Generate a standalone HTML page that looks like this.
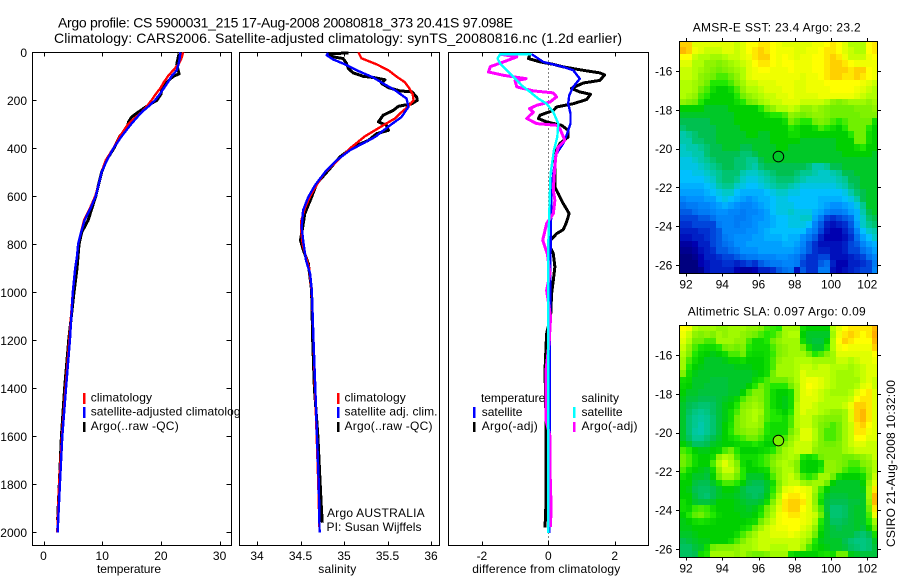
<!DOCTYPE html>
<html>
<head>
<meta charset="utf-8">
<title>Argo profile</title>
<style>
html,body{margin:0;padding:0;background:#fff;}
svg{display:block;font-family:"Liberation Sans",sans-serif;}
text{fill:#000;font-size:12px;}
</style>
</head>
<body>
<svg id="chart" xmlns="http://www.w3.org/2000/svg" width="900" height="580" viewBox="0 0 900 580">
<defs><clipPath id="legend-clip"><rect x="33" y="380" width="206.5" height="60"/></clipPath></defs>
<rect x="0" y="0" width="900" height="580" fill="#fff"/>
</svg>
<script>
// ---------- depth categories ----------
var climDepth = [0,25,50,75,100,125,150,175,200,225,250,275,300,350,400,450,500,550,600,650,700,750,800,850,900,1000,1200,1400,1600,1800,2000];
// ---------- temperature panel ----------
var climTemp = [23.8,23.5,23,22.1,21.2,20.5,19.9,19.1,18.4,17.6,16.7,15.5,14.4,13,11.9,10.6,9.9,9.4,8.8,7.9,6.9,6.4,5.9,5.7,5.4,5,4.4,3.75,3.15,2.65,2.35];
var satTemp = [23.3,23.2,23,22.7,21.8,21.2,20.5,19.8,19,17.9,16.7,15.8,14.9,13.3,11.9,10.8,9.9,9.4,8.9,8,7,6.4,5.9,5.7,5.4,5,4.5,3.83,3.2,2.8,2.4];
var argoTempDepth = [5,50,90,100,125,150,175,200,220,250,270,290,320,350,400,450,500,600,700,750,800,900,1000,1200,1400,1600,1800,1950];
var argoTemp = [23.1,22.7,23.1,22.1,21,20.2,20,19.3,17.9,16.1,15,14.5,14.2,13,12,10.7,9.9,8.9,7.6,6.5,6.05,5.7,5.2,4.3,3.6,3.05,2.7,2.4];
// ---------- salinity panel ----------
var climSal = [35.165,35.2,35.375,35.51,35.6,35.7,35.75,35.79,35.8,35.74,35.66,35.59,35.47,35.24,35.07,34.93,34.78,34.69,34.61,34.55,34.51,34.51,34.525,34.56,34.6,34.63,34.65,34.667,34.686,34.705,34.72];
var satSalDepth = [3,12,30,50,75,105,130,158,193,228,270,304,353,408,450,500,554,603,658,728,783,867,922,992,1200,1400,1600,1800,2000];
var satSal = [34.82,34.8,34.877,35.01,35.146,35.337,35.45,35.586,35.72,35.74,35.66,35.53,35.356,35.07,34.916,34.78,34.667,34.59,34.53,34.514,34.53,34.563,34.61,34.63,34.65,34.67,34.69,34.71,34.72];
var argoSalDepth = [3,6,19,26,47,68,86,100,105,114,130,147,161,165,186,200,214,225,242,262,290,304,325,339,367,394,436,492,547,603,672,728,783,825,880,992,1200,1400,1600,1750,1900,1960];
var argoSal = [35.05,34.82,34.877,34.99,35.03,35.05,35.107,35.22,35.337,35.47,35.433,35.51,35.644,35.78,35.835,35.843,35.78,35.625,35.567,35.45,35.395,35.49,35.51,35.375,35.28,35.107,34.954,34.82,34.686,34.628,34.55,34.525,34.5,34.533,34.59,34.628,34.64,34.66,34.7,34.72,34.74,34.75];
// ---------- difference panel ----------
var diffSatTempDepth = [8,40,61,75,110,144,179,214,255,297,339,380,422,505,575,800,1200,1600,2003];
var diffSatTemp = [-0.5,-0.15,0.45,0.75,0.95,0.75,0.63,0.6,0.67,0.67,0.57,0.45,0.25,0.15,0.1,0.07,0.05,0.04,0.03];
var diffArgoTempDepth = [8,26,40,50,61,75,86,94,117,128,151,165,175,197,214,228,242,262,276,290,304,325,353,380,422,505,561,589,630,672,714,739,756,783,811,839,894,950,1006,1103,1172,1325,1533,1880,1980];
var diffArgoTemp = [-0.55,-0.6,-0.25,0.15,0.45,1.05,1.55,1.7,1.55,1.05,0.7,0.95,1.27,1.15,0.75,0.25,0.15,-0.25,-0.3,-0.05,0.4,0.6,0.6,0.35,0.2,0.2,0.2,0.3,0.45,0.63,0.53,0.45,0.25,0.07,0.05,0.15,0.2,0.15,0.1,0.07,-0.05,-0.1,-0.07,-0.07,-0.1];
var diffArgoSalDepth = [8,19,40,60,82,96,110,119,144,161,169,186,207,221,235,249,276,297,304,318,367,394,429,505,575,617,672,714,783,839,922,992,1103,1200,1325,1533,1600,1742,1880,1978];
var diffArgoSal = [-1.45,-0.95,-1.35,-1.75,-1.8,-1.35,-0.67,-1,-0.95,-0.45,0.15,0.25,0.05,-0.35,-0.57,-0.45,-0.65,-0.35,0.25,0.35,0.5,0.3,0.23,0.18,0.15,0.2,0.15,-0.05,-0.17,-0.03,0.05,-0.05,0.07,0.03,-0.07,-0.07,0.05,0.05,0.08,0.07];
var diffSatSalDepth = [8,8,26,47,68,103,138,165,193,214,249,297,353,408,505,575,800,1200,1600,2003];
var diffSatSal = [-0.5,-1.45,-1.53,-1.45,-1.3,-1.05,-0.8,-0.55,-0.3,-0.05,0.15,0.3,0.27,0.17,0.07,0.05,0,0,0,0];
// ---------- tick labels ----------
var depthTicks = [0,200,400,600,800,1000,1200,1400,1600,1800,2000];
var tempTicks = [0,10,20,30];
var salTicks = [34,34.5,35,35.5,36];
var diffTicks = [-2,0,2];
var lonTicks = [92,94,96,98,100,102];
var latTicks = [-16,-18,-20,-22,-24,-26];
// ---------- map marker ----------
var argoLon = 97.098;
var argoLat = -20.41;
var argoSstTenths = 32;
var argoSlaCm = 9;
// ---------- SST grid: tenths of a degree above 20 C, north to south ----------
var sstGrid = [
[47,47,43,43,43,43,43,43,43,42,43,45,45,46,46,45,44,43,43,43,43,43,44,44,45,46,45,43,41,41,41,45,46],
[48,47,44,43,42,42,42,43,43,42,43,45,46,47,46,45,44,44,44,43,43,44,44,45,46,46,45,43,42,41,41,45,46],
[45,45,42,41,41,40,40,41,42,42,43,44,46,47,47,45,44,45,44,43,44,44,45,45,46,47,46,44,42,42,42,44,45],
[43,43,41,41,39,39,38,39,40,41,42,43,45,46,46,45,44,45,45,44,44,44,45,45,46,47,47,46,45,44,44,44,44],
[42,42,41,40,39,38,37,38,39,40,41,43,44,45,45,44,44,44,45,44,44,44,45,45,46,47,47,47,46,47,47,45,44],
[42,42,41,39,38,37,36,36,37,39,41,43,44,44,44,44,44,44,44,44,43,44,44,45,46,47,47,46,46,47,46,45,44],
[41,41,40,39,37,35,35,35,36,38,40,42,42,43,43,43,44,44,44,43,43,44,44,44,45,45,45,45,45,45,44,43,42],
[41,41,40,37,36,34,33,33,34,36,39,41,41,42,43,43,43,44,44,43,43,44,44,44,44,45,45,45,45,44,43,42,41],
[41,40,39,36,35,33,33,33,33,35,37,39,40,41,42,42,43,43,44,43,43,43,43,44,44,44,44,44,44,43,42,41,41],
[39,38,37,35,33,33,33,33,33,34,35,37,38,40,41,42,42,43,43,43,42,42,42,42,41,39,38,39,40,40,40,39,40],
[33,33,33,33,32,32,32,32,33,33,33,33,33,35,37,39,41,41,42,41,39,39,40,39,38,37,37,37,37,38,38,38,39],
[32,32,32,32,32,32,32,32,32,33,33,33,33,33,34,35,35,36,39,38,37,38,39,39,38,37,37,37,37,37,38,38,38],
[31,31,31,31,31,32,32,32,32,33,33,33,33,33,33,33,33,34,37,36,35,35,37,38,37,36,35,36,37,37,37,37,34],
[30,31,31,31,31,31,32,32,32,32,33,33,33,33,33,33,33,33,35,34,33,33,34,36,35,34,33,35,37,37,37,35,33],
[28,29,30,31,31,31,32,32,32,32,32,33,33,32,32,33,33,33,34,34,33,33,33,33,33,33,33,33,35,37,37,34,33],
[28,28,30,30,31,31,32,32,32,32,32,32,32,32,32,33,33,33,33,33,32,32,32,32,32,32,33,33,33,37,37,34,33],
[27,28,28,29,30,31,31,32,32,32,31,31,32,32,32,32,33,33,32,32,32,32,32,32,32,32,33,33,33,34,35,33,33],
[27,27,28,28,30,31,31,31,31,31,30,30,31,32,32,32,32,32,32,32,32,32,32,32,32,32,32,33,33,33,33,33,32],
[26,26,27,28,29,30,31,31,31,30,30,29,29,31,32,32,32,32,32,32,32,32,32,32,32,32,32,32,32,32,32,32,32],
[26,26,26,27,28,29,30,31,31,30,30,29,28,30,31,31,31,31,31,31,31,30,28,28,29,31,31,32,32,32,32,32,32],
[25,25,26,26,27,28,29,30,30,30,28,27,27,28,29,30,31,31,31,30,29,29,28,27,27,28,29,31,31,32,32,32,32],
[25,25,25,25,26,27,29,30,30,29,27,26,26,27,28,29,30,30,30,29,28,27,27,27,27,27,28,29,31,31,32,32,32],
[24,24,24,24,25,26,28,29,29,27,26,25,25,26,27,28,29,29,28,27,26,26,26,26,26,26,27,28,30,31,32,32,32],
[23,23,23,23,24,25,26,27,27,25,24,24,24,24,25,26,27,27,26,26,25,25,25,25,25,25,25,26,28,30,31,32,32],
[21,22,22,22,23,23,25,26,25,24,23,22,23,24,24,25,26,26,25,25,25,25,25,24,24,24,24,25,26,28,31,32,32],
[19,20,20,21,21,22,23,24,23,22,21,21,22,23,24,25,26,26,26,25,25,25,25,24,23,22,22,23,24,26,29,32,32],
[18,18,19,20,20,21,22,22,21,21,20,21,21,22,23,25,26,26,27,26,26,26,24,23,21,20,20,21,23,24,28,31,32],
[17,17,17,18,18,19,21,21,21,20,20,21,22,22,23,24,25,25,26,26,27,27,23,20,17,16,17,18,19,24,27,30,31],
[16,16,17,17,17,17,20,21,21,20,21,21,22,23,23,24,25,25,26,26,26,25,21,18,15,14,15,16,18,23,27,29,30],
[15,15,15,16,16,17,18,21,21,21,21,22,22,23,24,25,25,25,25,25,25,22,20,17,14,13,13,15,17,21,25,27,28],
[14,14,15,15,16,17,18,20,21,22,22,22,23,23,24,24,24,25,24,24,22,20,18,15,13,13,13,14,16,19,23,25,27],
[12,12,13,15,15,17,18,19,20,22,22,23,23,23,23,23,23,24,24,23,21,18,16,14,14,14,14,15,17,18,21,23,24],
[11,11,12,14,15,16,18,18,19,20,22,22,22,23,23,23,23,23,23,22,20,18,16,15,15,14,14,15,17,17,19,21,23],
[10,10,11,13,15,15,16,17,17,18,19,20,20,21,21,21,22,22,21,20,18,16,16,17,17,14,14,14,15,16,17,19,21],
[10,10,10,13,14,15,15,16,16,15,16,17,16,18,19,20,20,21,21,20,17,16,16,18,19,15,13,13,15,15,16,17,20],
[10,10,10,11,14,15,15,15,15,13,12,12,13,15,15,16,18,19,20,14,18,16,16,20,20,14,13,14,15,16,17,17,21]
];
// ---------- SLA grid: centimetres, north to south ----------
var slaGrid = [
[24,22,16,14,14,14,12,12,14,14,14,12,12,10,6,5,4,14,14,14,2,0,0,0,0,16,20,24,26,26,26,26,30],
[22,18,12,10,12,10,14,12,14,14,12,10,8,6,4,5,8,14,16,16,0,-2,-2,-2,-2,14,22,26,28,26,24,26,31],
[20,16,8,8,6,6,14,14,14,12,12,6,2,2,4,8,12,14,14,14,2,-2,-3,-3,0,16,24,28,26,24,24,24,30],
[18,12,6,3,2,2,4,8,10,8,10,4,2,2,2,6,10,12,14,14,8,2,-2,-2,4,16,22,24,22,22,22,22,28],
[16,10,4,1,0,-1,0,2,6,6,8,2,1,1,2,5,10,12,14,14,14,8,4,6,10,14,20,20,20,20,20,20,24],
[14,6,2,0,-2,-2,-2,-1,1,1,2,0,0,0,2,6,12,14,14,16,16,16,14,14,14,14,18,18,16,18,20,20,22],
[14,4,0,-1,-2,-2,-2,-2,-2,-1,-1,-1,0,0,2,6,14,14,14,16,18,18,16,18,18,16,16,16,14,16,18,20,20],
[10,2,-1,-2,-2,-2,-2,-2,-2,-2,-2,-2,-1,0,2,8,14,14,14,16,20,18,18,18,18,16,14,14,14,16,18,20,20],
[2,1,-2,-2,-2,-3,-3,-3,-2,-2,-2,-2,1,3,6,8,8,8,12,16,20,22,22,20,18,16,14,14,14,14,18,20,18],
[1,0,-2,-2,-3,-3,-3,-3,-2,-2,-2,0,4,8,6,4,4,4,8,14,20,24,22,20,18,16,14,14,14,16,20,22,18],
[0,-2,-2,-3,-3,-3,-3,-3,-2,-2,0,6,10,10,6,2,0,0,2,14,20,22,20,18,16,14,14,14,16,20,24,26,20],
[-1,-3,-3,-4,-4,-4,-3,-2,-1,1,6,10,12,10,6,2,0,-1,2,14,20,20,20,18,16,16,16,16,18,24,26,26,20],
[-2,-4,-5,-6,-6,-5,-3,-1,0,4,10,12,14,12,6,2,0,-1,2,16,20,20,18,16,16,16,16,18,22,28,28,26,20],
[-2,-5,-7,-8,-7,-5,-3,-1,2,6,12,14,16,14,6,4,2,0,4,16,20,18,18,16,14,12,12,14,20,28,30,26,20],
[-2,-6,-8,-9,-8,-6,-3,-1,2,8,12,14,16,12,6,4,4,2,6,16,18,18,14,12,10,10,10,14,20,28,30,26,20],
[-2,-6,-8,-10,-8,-6,-3,0,3,8,12,14,14,12,4,2,2,2,6,16,18,18,14,10,8,6,8,14,18,26,28,24,20],
[-2,-6,-9,-10,-8,-6,-3,0,4,8,10,12,12,8,4,2,2,2,8,14,20,20,16,10,6,6,8,14,18,26,26,22,20],
[-2,-5,-8,-8,-6,-4,-2,0,2,4,6,8,8,6,2,2,4,6,12,16,20,20,16,10,6,6,8,14,18,24,24,20,20],
[0,-2,-5,-5,-4,-2,-1,0,0,1,2,2,4,2,0,0,8,10,14,18,18,18,14,10,8,8,10,14,18,20,20,18,18],
[6,4,0,-1,-1,0,1,6,8,4,0,0,0,1,2,4,8,14,16,18,18,18,12,10,10,10,10,14,16,18,18,18,18],
[8,6,2,0,0,2,12,16,14,6,2,2,2,4,6,8,12,14,16,14,4,2,4,8,10,10,10,8,8,10,12,14,18],
[8,6,2,0,0,6,16,20,16,10,2,0,2,4,6,10,14,16,14,10,1,0,0,2,12,12,10,8,6,6,10,12,16],
[6,2,0,-1,-2,2,12,18,18,12,4,0,0,1,2,8,12,16,16,10,1,0,0,4,12,12,10,6,4,4,6,10,16],
[2,0,-2,-2,-3,0,8,14,14,8,4,-2,-2,-2,0,6,12,16,18,14,6,4,6,14,14,8,2,0,0,0,2,8,18],
[0,0,-3,-4,-4,-2,2,6,6,4,0,-3,-4,-4,-2,2,10,16,18,18,14,12,14,14,8,0,-2,-2,-2,-2,0,12,20],
[0,-1,-4,-5,-5,-4,-2,0,0,-1,-3,-5,-5,-5,-2,4,12,20,22,24,22,20,14,6,0,-2,-2,-2,-2,-2,-1,14,26],
[0,0,-3,-5,-6,-4,-2,-1,-1,-2,-3,-4,-5,-4,-1,6,16,24,26,26,24,20,12,4,-2,-3,-3,-3,-2,-2,-2,14,30],
[2,0,-2,-3,-3,-2,0,0,0,-1,-2,-3,-3,-2,2,10,18,26,28,28,26,20,12,2,-3,-4,-4,-4,-3,-3,-2,12,30],
[2,1,5,6,5,2,0,0,0,-1,-1,-2,-1,2,8,14,20,26,28,28,24,20,14,6,-3,-6,-6,-5,-3,-2,-2,8,26],
[0,4,7,8,6,4,1,0,0,0,-1,-1,0,4,10,16,22,24,26,26,22,20,18,8,-2,-6,-6,-5,-3,-2,-2,6,22],
[-1,0,2,3,2,1,0,0,0,0,0,1,2,8,14,18,22,24,24,24,22,20,16,4,-2,-5,-5,-4,-3,-2,-2,4,14],
[-1,-1,0,0,0,0,0,0,0,0,2,4,8,14,18,20,22,22,24,24,20,18,12,2,-2,-3,-4,-3,-3,-2,-3,0,8],
[-2,-2,-1,0,0,0,0,0,0,2,6,10,14,18,18,20,20,20,22,20,18,16,8,0,-2,-3,-3,-3,-3,-5,-6,-4,2],
[-4,-3,-2,-1,-1,0,0,0,2,6,10,14,16,18,18,18,18,18,18,18,16,12,4,-1,-2,-2,-2,-4,-6,-7,-7,-6,-2],
[-5,-5,-3,-2,2,8,10,10,10,12,14,14,16,18,18,16,16,16,18,18,14,6,2,0,-1,-2,-2,-3,-5,-6,-7,-6,-3],
[-5,-5,-4,2,4,14,14,14,14,12,14,10,8,8,10,14,14,14,2,0,0,0,0,2,3,2,8,8,-1,-2,-3,-3,-3]
];

var svg = document.getElementById('chart');
var NS = 'http://www.w3.org/2000/svg';

function node(tag, attrs, name, parent) {
  var el = document.createElementNS(NS, tag);
  for (var k in attrs) el.setAttribute(k, attrs[k]);
  
  
  (parent || svg).appendChild(el);
  return el;
}
function label(str, x, y, anchor, name, size, len) {
  var a = {x: x, y: y, 'text-anchor': anchor || 'start', style: 'font-size:' + (size || 12) + 'px'};
  if (len) { a.textLength = len; a.lengthAdjust = 'spacing'; }
  var t = node('text', a, name);
  t.textContent = str;
  return t;
}
function tick(x1, y1, x2, y2, name) {
  node('line', {x1: x1, y1: y1, x2: x2, y2: y2, stroke: '#000', 'stroke-width': 1, 'shape-rendering': 'crispEdges'}, name);
}

// ---------- axis functions ----------
function yDepth(d) { return 52.3 + d * 0.24; }
function xTemp(v) { return 43.5 + v * 5.87; }
function xSal(v) { return 257 + (v - 34) * 87; }
function xDiff(v) { return 548.3 + v * 33.2; }
var PTOP = 52.5, PBOT = 545.5;

function panel(x0, x1, name) {
  node('rect', {x: x0, y: PTOP, width: x1 - x0, height: PBOT - PTOP, fill: '#fff', stroke: '#000', 'stroke-width': 1, 'shape-rendering': 'crispEdges'}, name);
}
function xTicks(ticks, fx, prefix) {
  ticks.forEach(function (t) {
    var x = Math.round(fx(t)) + 0.5;
    tick(x, PTOP, x, PTOP + 4, prefix + '-top-tick');
    tick(x, PBOT, x, PBOT - 4, prefix + '-bottom-tick');
    label(String(t), fx(t), 560, 'middle', prefix + '-tick-label');
  });
}
function series(depths, values, fx, color, width, name) {
  var pts = depths.map(function (d, i) { return fx(values[i]).toFixed(1) + ',' + yDepth(d).toFixed(1); }).join(' ');
  node('polyline', {points: pts, fill: 'none', stroke: color, 'stroke-width': width, 'stroke-linejoin': 'round', 'shape-rendering': 'crispEdges'}, name);
}
function legendMark(x, y1, y2, color, name) {
  node('rect', {x: x, y: y1, width: 2.5, height: y2 - y1, fill: color, 'shape-rendering': 'crispEdges'}, name);
}

// ---------- titles ----------
label('Argo profile: CS 5900031_215 17-Aug-2008 20080818_373 20.41S 97.098E', 58, 27.5, 'start', 'figure-title-line-1', 14, 455);
label('Climatology: CARS2006. Satellite-adjusted climatology: synTS_20080816.nc (1.2d earlier)', 54, 43, 'start', 'figure-title-line-2', 14, 568);

// ---------- temperature panel ----------
panel(32.5, 231.5, 'temperature-panel');
xTicks(tempTicks, xTemp, 'temperature-axis');
depthTicks.forEach(function (d) {
  var y = Math.round(yDepth(d)) + 0.5;
  if (d > 0) {
    tick(32.5, y, 36.5, y, 'depth-left-tick');
    tick(231.5, y, 226.5, y, 'depth-right-tick');
  }
  label(String(d), 27, yDepth(d) + 4.5, 'end', 'depth-tick-label');
});
label('temperature', 97, 573, 'start', 'temperature-axis-title', 12, 64);
series(argoTempDepth, argoTemp, xTemp, '#000', 3, 'temperature-argo-line');
series(climDepth, climTemp, xTemp, '#f00', 2.4, 'temperature-climatology-line');
series(climDepth, satTemp, xTemp, '#00f', 2.4, 'temperature-satellite-line');
legendMark(83, 393, 404, '#f00', 'legend-mark-climatology');
legendMark(83, 407, 418, '#00f', 'legend-mark-satellite-adjusted');
legendMark(83, 422, 432, '#000', 'legend-mark-argo');
label('climatology', 90.7, 401.5, 'start', 'legend-climatology', 12, 61.3);
label('Argo(..raw -QC)', 90.7, 430, 'start', 'legend-argo', 12, 88);

// ---------- salinity panel ----------
panel(239.5, 439.5, 'salinity-panel');
var clipped = label('satellite-adjusted climatology', 90.7, 415.5, 'start', 'legend-satellite-adjusted', 12, 156);
clipped.setAttribute('clip-path', 'url(#legend-clip)');
xTicks(salTicks, xSal, 'salinity-axis');
label('salinity', 318.3, 573, 'start', 'salinity-axis-title', 12, 38);
series(argoSalDepth, argoSal, xSal, '#000', 3, 'salinity-argo-line');
series(climDepth, climSal, xSal, '#f00', 2.4, 'salinity-climatology-line');
series(satSalDepth, satSal, xSal, '#00f', 2.4, 'salinity-satellite-line');
legendMark(337, 393, 404, '#f00', 'salinity-legend-mark-climatology');
legendMark(337, 407, 418, '#00f', 'salinity-legend-mark-satellite');
legendMark(337, 422, 432, '#000', 'salinity-legend-mark-argo');
label('climatology', 344.5, 401.5, 'start', 'salinity-legend-climatology', 12, 61.3);
label('satellite adj. clim.', 344.5, 415.5, 'start', 'salinity-legend-satellite', 12, 93);
label('Argo(..raw -QC)', 344.5, 430, 'start', 'salinity-legend-argo', 12, 88);
label('Argo AUSTRALIA', 327, 517, 'start', 'float-country-label', 12, 97.7);
label('PI: Susan Wijffels', 326.5, 531, 'start', 'float-pi-label', 12, 95);

// ---------- difference panel ----------
panel(448.5, 648.5, 'difference-panel');
xTicks(diffTicks, xDiff, 'difference-axis');
node('line', {x1: 548.5, y1: PTOP, x2: 548.5, y2: PBOT, stroke: '#000', 'stroke-width': 1, 'stroke-dasharray': '1 3', 'shape-rendering': 'crispEdges'}, 'zero-difference-line');
label('difference from climatology', 472.3, 573, 'start', 'difference-axis-title', 12, 148);
series(diffArgoTempDepth, diffArgoTemp, xDiff, '#000', 3, 'difference-temperature-argo-line');
series(diffSatTempDepth, diffSatTemp, xDiff, '#00f', 2.4, 'difference-temperature-satellite-line');
series(diffArgoSalDepth, diffArgoSal, xDiff, '#f0f', 3, 'difference-salinity-argo-line');
series(diffSatSalDepth, diffSatSal, xDiff, '#0ff', 2.4, 'difference-salinity-satellite-line');
label('temperature', 481, 402, 'start', 'difference-legend-temperature-heading', 12, 64.3);
label('satellite', 481.7, 416, 'start', 'difference-legend-temperature-satellite', 12, 40.7);
label('Argo(-adj)', 481.7, 430, 'start', 'difference-legend-temperature-argo', 12, 56);
label('salinity', 581.5, 402, 'start', 'difference-legend-salinity-heading', 12, 37.5);
label('satellite', 581.5, 416, 'start', 'difference-legend-salinity-satellite', 12, 41);
label('Argo(-adj)', 581.5, 430, 'start', 'difference-legend-salinity-argo', 12, 56);
legendMark(473, 407, 418, '#00f', 'difference-legend-mark-temperature-satellite');
legendMark(473, 422, 432, '#000', 'difference-legend-mark-temperature-argo');
legendMark(573, 407, 418, '#0ff', 'difference-legend-mark-salinity-satellite');
legendMark(573, 422, 432, '#f0f', 'difference-legend-mark-salinity-argo');

// ---------- colour scale shared by both maps ----------
var scaleIdx = [10,13,16,19,22,25,27,29,31,33,35,37,39,41,43,45,47,49,50];
var scaleCol = ['00007f','0000b0','0030d0','0070f0','0090ff','00c0ff','00c8c8','00c890','00c050','00d000','20e800','70f000','90f400','b0ff00','e0ff00','ffff00','ffd000','ffa000','ff8000'];
function colorAt(v) {
  if (v <= scaleIdx[0]) return '#' + scaleCol[0];
  for (var i = 1; i < scaleIdx.length; i++) {
    if (v <= scaleIdx[i]) {
      var f = (v - scaleIdx[i - 1]) / (scaleIdx[i] - scaleIdx[i - 1]);
      var a = parseInt(scaleCol[i - 1], 16), b = parseInt(scaleCol[i], 16);
      var r = Math.round((a >> 16) + ((b >> 16) - (a >> 16)) * f);
      var g = Math.round(((a >> 8) & 255) + (((b >> 8) & 255) - ((a >> 8) & 255)) * f);
      var l = Math.round((a & 255) + ((b & 255) - (a & 255)) * f);
      return 'rgb(' + r + ',' + g + ',' + l + ')';
    }
  }
  return '#' + scaleCol[scaleCol.length - 1];
}
function sstLevel(v) { return v; }
function slaLevel(cm) { return 33 + cm / 2; }

// ---------- maps ----------
function xLon(lon) { return 686 + (lon - 92) * 18.13; }
function drawMap(grid, levelFn, top, prefix, markerValue) {
  var bottom = top + 232;
  function yLat(lat) { return top + 30 + (-16 - lat) * 19.4; }
  var left = 679.5, right = 877.5;
  var rows = grid.length, cols = grid[0].length;
  grid.forEach(function (row, r) {
    row.forEach(function (v, c) {
      var x0 = Math.round(left + (right - left) * c / cols), x1 = Math.round(left + (right - left) * (c + 1) / cols);
      var y0 = Math.round(top + (bottom - top) * r / rows), y1 = Math.round(top + (bottom - top) * (r + 1) / rows);
      var cell = document.createElementNS(NS, 'rect');
      cell.setAttribute('x', x0);
      cell.setAttribute('y', y0);
      cell.setAttribute('width', x1 - x0);
      cell.setAttribute('height', y1 - y0);
      cell.setAttribute('fill', colorAt(levelFn(v)));
      cell.setAttribute('shape-rendering', 'crispEdges');
      
      
      svg.appendChild(cell);
    });
  });
  node('rect', {x: left, y: top + 0.5, width: right - left, height: bottom - top, fill: 'none', stroke: '#000', 'stroke-width': 1, 'shape-rendering': 'crispEdges'}, prefix + '-map-frame');
  lonTicks.forEach(function (t) {
    var x = Math.round(xLon(t)) + 0.5;
    tick(x, top - 3, x, top, prefix + '-lon-top-tick');
    tick(x, bottom, x, bottom + 3.5, prefix + '-lon-bottom-tick');
    label(String(t), xLon(t), bottom + 15.5, 'middle', prefix + '-lon-tick-label');
  });
  latTicks.forEach(function (t) {
    var y = Math.round(yLat(t)) + 0.5;
    tick(676, y, 679.5, y, prefix + '-lat-left-tick');
    tick(877.5, y, 881, y, prefix + '-lat-right-tick');
    label(String(t), 655, yLat(t) + 4.5, 'start', prefix + '-lat-tick-label');
  });
  node('circle', {cx: xLon(argoLon), cy: yLat(argoLat), r: 5.3, fill: colorAt(levelFn(markerValue)), stroke: '#000', 'stroke-width': 1}, prefix + '-argo-marker');
}
drawMap(sstGrid, sstLevel, 41, 'sst', argoSstTenths);
drawMap(slaGrid, slaLevel, 325, 'sla', argoSlaCm);
label('AMSR-E SST: 23.4 Argo: 23.2', 692.7, 31.5, 'start', 'sst-map-title', 12, 168);
label('Altimetric SLA: 0.097 Argo: 0.09', 687.7, 315.5, 'start', 'sla-map-title', 12, 178);
var stamp = label('CSIRO 21-Aug-2008 10:32:00', 0, 0, 'start', 'creation-stamp', 12, 167);
stamp.setAttribute('transform', 'translate(895,547) rotate(-90)');
</script>
</body>
</html>
